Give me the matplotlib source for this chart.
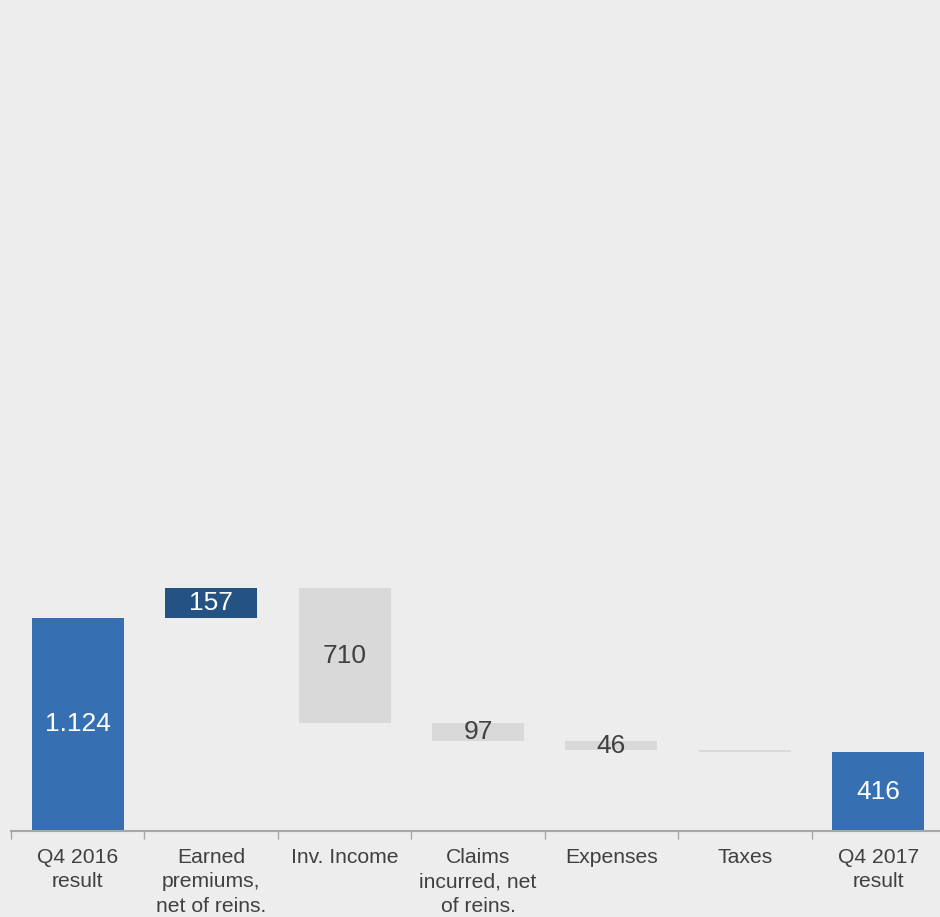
import numpy as np
import matplotlib.pyplot as plt

plt.rcParams['font.family'] = ['Liberation Sans', 'DejaVu Sans']

categories = ['Q4 2016\nresult', 'Earned\npremiums,\nnet of reins.', 'Inv. Income',
              'Claims\nincurred, net\nof reins.', 'Expenses', 'Taxes', 'Q4 2017\nresult']
changes = [1124, 157, -710, -97, -46, -12, 416]
kinds = ['total', 'up', 'down', 'down', 'down', 'down', 'total']
labels = ['1.124', '157', '710', '97', '46', '', '416']

colors = {'total': '#3670b3', 'up': '#245283', 'down': '#d9d9d9'}
text_colors = {'total': 'white', 'up': 'white', 'down': '#404040'}

bg = '#ededed'
fig = plt.figure(figsize=(9.4, 9.17), dpi=100, facecolor=bg)
ax = fig.add_axes([11 / 940, 86 / 917, 934 / 940, 831 / 917])
ax.set_facecolor(bg)

running = 0
for i, (val, kind, lab) in enumerate(zip(changes, kinds, labels)):
    if kind == 'total':
        bottom, height = 0, val
        running = val
    else:
        bottom = running if val > 0 else running + val
        height = abs(val)
        running += val
    ax.bar(i, height, bottom=bottom, width=0.69, color=colors[kind], linewidth=0)
    if lab:
        ax.text(i, bottom + height / 2, lab, ha='center', va='center',
                fontsize=19, color=text_colors[kind])

ax.set_xlim(-0.5, 6.5)
ax.set_ylim(0, 4385)
ax.set_yticks([])
for s in ['top', 'right', 'left']:
    ax.spines[s].set_visible(False)
ax.spines['bottom'].set_color('#a6a6a6')
ax.spines['bottom'].set_linewidth(1.5)

ax.set_xticks(range(len(categories)))
ax.set_xticklabels(categories, fontsize=15.2, color='#404040', linespacing=1.38, va='top')
ax.tick_params(axis='x', which='major', length=0, pad=12)
ax.set_xticks(np.arange(-0.5, 7, 1), minor=True)
ax.tick_params(axis='x', which='minor', length=6, width=1, color='#a6a6a6')

fig.savefig('out.png', dpi=100, facecolor=bg)
